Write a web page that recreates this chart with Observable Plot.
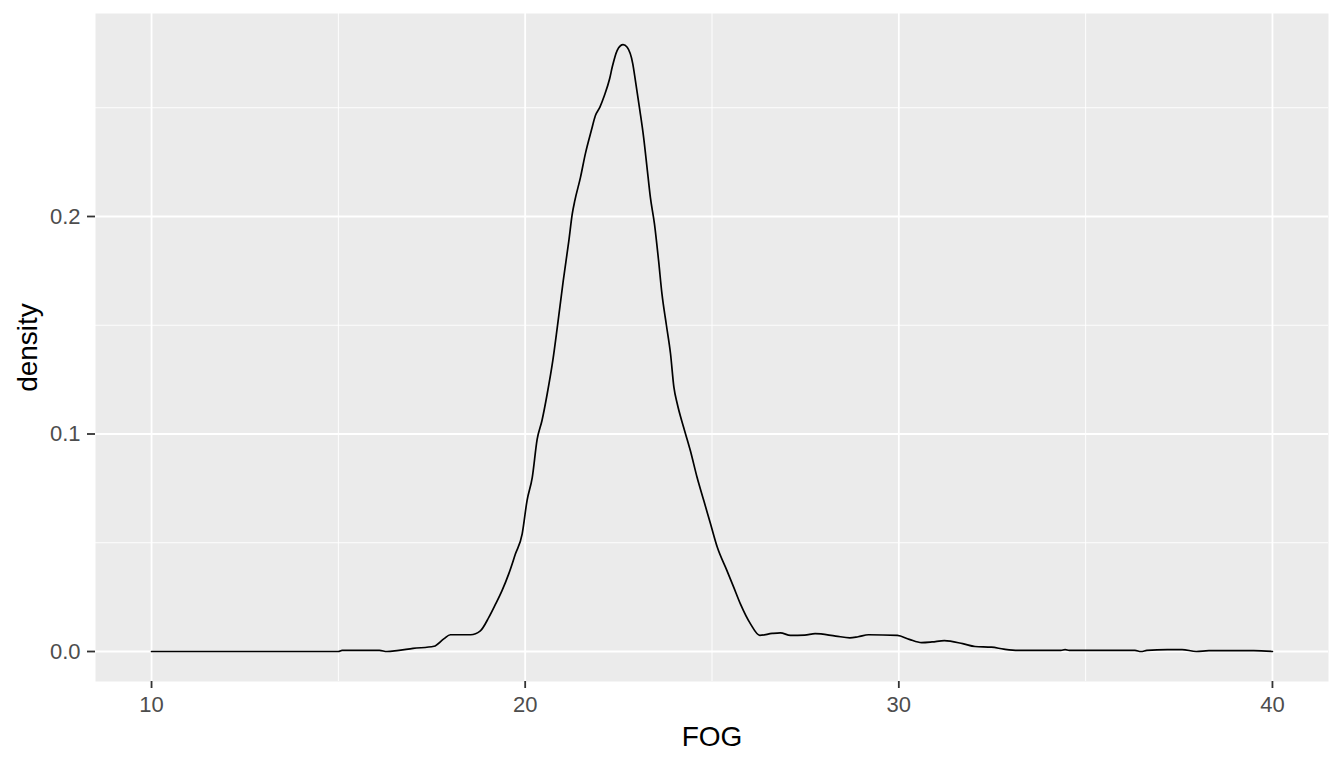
<!DOCTYPE html>
<html>
<head>
<meta charset="utf-8">
<script src="https://cdn.jsdelivr.net/npm/d3@7"></script>
<script src="https://cdn.jsdelivr.net/npm/@observablehq/plot@0.6"></script>
<style>
  html, body { margin: 0; padding: 0; background: #ffffff; }
</style>
</head>
<body>
<div id="chart"></div>
<script>
const fogValues = [
  10, 12, 15, 15.1, 16.1, 16.3, 16.57, 17.0, 17.56, 17.82, 18.0, 18.54, 18.8,
  19.03, 19.21, 19.38, 19.56, 19.74, 19.92, 20.05, 20.19, 20.32, 20.45, 20.59,
  20.74, 20.86, 21.02, 21.17, 21.26, 21.33, 21.48, 21.61, 21.77, 21.88, 22.0,
  22.12, 22.26, 22.33, 22.46, 22.55, 22.62, 22.73, 22.88, 22.95, 23.07, 23.17,
  23.26, 23.35, 23.46, 23.57, 23.66, 23.78, 23.89, 23.98, 24.07, 24.24, 24.42,
  24.6, 24.78, 24.96, 25.14, 25.4, 25.58, 25.76, 26.03, 26.28, 26.61, 26.83,
  27.1, 27.48, 27.76, 28.31, 28.69, 28.91, 29.19, 29.96, 30.28, 30.61, 30.89,
  31.22, 31.71, 32.04, 32.48, 32.81, 33.2, 34.34, 34.45, 34.56, 36.32, 36.48,
  36.64, 37.19, 37.58, 37.96, 38.3, 39.5, 40
];
const densityValues = [
  0, 0, 0, 0.0005, 0.0005, 0, 0.0004, 0.0014, 0.0024, 0.0058, 0.0077, 0.0077, 0.0095,
  0.0158, 0.0219, 0.028, 0.0357, 0.0449, 0.0541, 0.0694, 0.0801, 0.0975, 0.1062, 0.1185,
  0.1338, 0.1491, 0.1706, 0.189, 0.2012, 0.2074, 0.218, 0.2288, 0.2395, 0.2464, 0.2503,
  0.2556, 0.2633, 0.2687, 0.2763, 0.2785, 0.279, 0.2778, 0.2702, 0.2625, 0.2487, 0.2364,
  0.2227, 0.2089, 0.1966, 0.1798, 0.1645, 0.15, 0.1369, 0.1215, 0.1139, 0.1031, 0.0924,
  0.0801, 0.0694, 0.0587, 0.048, 0.0372, 0.0296, 0.0219, 0.0127, 0.0074, 0.0083, 0.0086,
  0.0074, 0.0075, 0.0082, 0.0071, 0.0063, 0.0068, 0.0077, 0.0074, 0.0056, 0.0041, 0.0044,
  0.005, 0.0036, 0.0023, 0.002, 0.0011, 0.0005, 0.0005, 0.0009, 0.0005, 0.0005, 0,
  0.0005, 0.0009, 0.0009, 0, 0.0004, 0.0004, 0
];
const xMajorTicks = [10, 20, 30, 40];
const xMinorTicks = [15, 25, 35];
const yMajorTicks = [0, 0.1, 0.2];
const yMinorTicks = [0.05, 0.15, 0.25];
const xTitle = "FOG";
const yTitle = "density";

const data = fogValues.map((f, i) => ({FOG: f, density: densityValues[i]}));

const font = "Liberation Sans, Arial, Helvetica, sans-serif";

const chart = Plot.plot({
  width: 1344,
  height: 768,
  marginLeft: 95,
  marginRight: 16,
  marginTop: 13,
  marginBottom: 87,
  style: {fontFamily: font, fontSize: "22px", background: "#ffffff"},
  x: {domain: [8.5, 41.5], label: null},
  y: {domain: [-0.01379, 0.29333], label: null},
  marks: [
    Plot.frame({fill: "#EBEBEB", stroke: null}),
    Plot.ruleX(xMinorTicks, {stroke: "#ffffff", strokeWidth: 0.9}),
    Plot.ruleY(yMinorTicks, {stroke: "#ffffff", strokeWidth: 0.9}),
    Plot.ruleX(xMajorTicks, {stroke: "#ffffff", strokeWidth: 1.8}),
    Plot.ruleY(yMajorTicks, {stroke: "#ffffff", strokeWidth: 1.8}),
    Plot.line(data, {x: "FOG", y: "density", stroke: "#000000", strokeWidth: 1.7, curve: "monotone-x"}),
    Plot.axisX({ticks: xMajorTicks, tickSize: 7, tickPadding: 8, stroke: "#333333", fill: "#4D4D4D", strokeWidth: 1.8, fontSize: 22, tickFormat: d3.format("d"), label: null}),
    Plot.axisY({ticks: yMajorTicks, tickSize: 8, tickPadding: 7, stroke: "#333333", fill: "#4D4D4D", strokeWidth: 1.8, fontSize: 22, tickFormat: d3.format(".1f"), label: null}),
    Plot.text([xTitle], {frameAnchor: "bottom", dy: 56, textAnchor: "middle", lineAnchor: "middle", fontSize: 28, fill: "#000000", fontFamily: font}),
    Plot.text([yTitle], {frameAnchor: "left", dx: -67, rotate: -90, textAnchor: "middle", lineAnchor: "middle", fontSize: 28, fill: "#000000", fontFamily: font})
  ]
});

document.getElementById("chart").appendChild(chart);
</script>
</body>
</html>
